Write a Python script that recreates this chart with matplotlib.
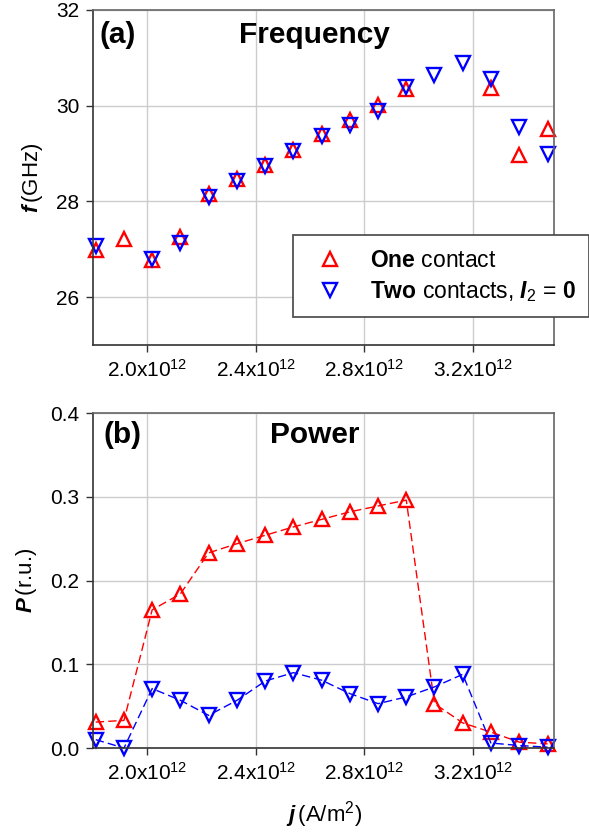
import numpy as np
import matplotlib
matplotlib.use('Agg')
from matplotlib import pyplot as plt

plt.rcParams['font.family'] = ['Liberation Sans', 'DejaVu Sans']
plt.rcParams['mathtext.fontset'] = 'custom'
plt.rcParams['mathtext.rm'] = 'Liberation Sans'
plt.rcParams['mathtext.it'] = 'Liberation Sans:italic'
plt.rcParams['mathtext.bf'] = 'Liberation Sans:bold'
plt.rcParams['mathtext.bfit'] = 'Liberation Sans:bold:italic'

nan = np.nan

# current density, A/m^2 (x 1e12)
j = np.array([1.810, 1.914, 2.018, 2.122, 2.226, 2.331, 2.435, 2.539, 2.643,
              2.747, 2.851, 2.955, 3.059, 3.163, 3.267, 3.372, 3.476]) * 1e12

# frequency, GHz
f_one = [26.99, 27.22, 26.77, 27.26, 28.15, 28.46, 28.76, 29.08, 29.40,
         29.71, 30.02, 30.35, nan, nan, 30.37, 28.97, 29.52]
f_two = [27.07, nan, 26.79, 27.14, 28.10, 28.42, 28.74, 29.05, 29.36,
         29.60, 29.88, 30.40, 30.65, 30.89, 30.56, 29.56, 29.00]

# power, relative units
p_one = [0.031, 0.033, 0.165, 0.184, 0.233, 0.244, 0.254, 0.264, 0.273,
         0.282, 0.289, 0.296, 0.053, 0.030, 0.019, 0.007, 0.005]
p_two = [0.010, 0.000, 0.071, 0.057, 0.039, 0.057, 0.080, 0.090, 0.081,
         0.065, 0.053, 0.061, 0.073, 0.088, 0.006, 0.003, 0.001]

xticks = [2.0e12, 2.4e12, 2.8e12, 3.2e12]
xticklabels = ['2.0x10$^{12}$', '2.4x10$^{12}$', '2.8x10$^{12}$', '3.2x10$^{12}$']

label_one = r'$\mathbf{One}$ contact'
label_two = r'$\mathbf{Two}$ contacts, $\mathbfit{I}_2$ = $\mathbf{0}$'

fig = plt.figure(figsize=(5.89, 8.33), dpi=100)
ax1 = fig.add_axes([0.158, 0.5858, 0.7827, 0.4022])
ax2 = fig.add_axes([0.158, 0.102, 0.7827, 0.4022])

mk = dict(markersize=10, markeredgewidth=1.7, markerfacecolor='none', clip_on=False)

# frequency: markers only
ax1.plot(j, f_one, linestyle='none', marker='^', color='#ff0000', label=label_one, **mk)
ax1.plot(j, f_two, linestyle='none', marker='v', color='#0000ff', label=label_two, **mk)

# power: markers with thin dashed lines
ax2.plot(j, p_one, linestyle='--', dashes=(6, 3), linewidth=1, marker='^', color='#ff0000', **mk)
ax2.plot(j, p_two, linestyle='--', dashes=(6, 3), linewidth=1, marker='v', color='#0000ff', **mk)

ax1.set_ylim(25, 32)
ax1.set_yticks([26, 28, 30, 32])
ax2.set_ylim(0, 0.4)
ax2.set_yticks([0.0, 0.1, 0.2, 0.3, 0.4])
ax2.set_yticklabels(['0.0', '0.1', '0.2', '0.3', '0.4'])

for ax in (ax1, ax2):
    ax.set_xlim(1.8e12, 3.5e12)
    ax.set_xticks(xticks)
    ax.set_xticklabels(xticklabels)
    ax.grid(True, color='#cccccc', linewidth=1)
    ax.set_axisbelow(True)
    ax.tick_params(direction='out', length=5, width=1, labelsize=15, pad=5, color='#333333')
    for side in ('top', 'right'):
        ax.spines[side].set_color('#666666')
    for side in ('left', 'bottom'):
        ax.spines[side].set_color('#333333')
    for s in ax.spines.values():
        s.set_linewidth(1.2)

ax1.set_ylabel(r'$\mathbfit{f}\,$(GHz)', fontsize=16, labelpad=8)
ax2.set_ylabel(r'$\mathbfit{P}\,$(r.u.)', fontsize=16, labelpad=8)
ax2.set_xlabel(r'$\mathbfit{j}\,$(A/m$^2$)', fontsize=16, labelpad=11)

ax1.text(0.015, 0.925, '(a)', transform=ax1.transAxes, fontsize=21.5,
         fontweight='bold', va='center', ha='left')
ax1.text(0.48, 0.925, 'Frequency', transform=ax1.transAxes, fontsize=21.5,
         fontweight='bold', va='center', ha='center')
ax2.text(0.022, 0.934, '(b)', transform=ax2.transAxes, fontsize=21.5,
         fontweight='bold', va='center', ha='left')
ax2.text(0.48, 0.934, 'Power', transform=ax2.transAxes, fontsize=21.5,
         fontweight='bold', va='center', ha='center')

leg = ax1.legend(loc='upper left', bbox_to_anchor=(293 / 589, 1 - 235 / 833),
                 bbox_transform=fig.transFigure, borderaxespad=0, fontsize=16.5,
                 fancybox=False, framealpha=1, edgecolor='#444444',
                 borderpad=0.6, handlelength=2, handletextpad=0.74, labelspacing=0.3)
leg.get_frame().set_linewidth(1.2)

fig.savefig('out.png', dpi=100)
